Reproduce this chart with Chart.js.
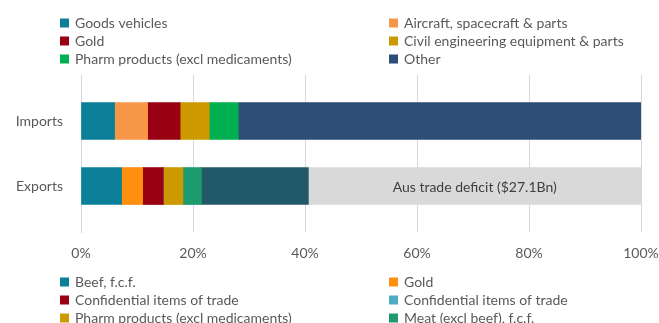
<!DOCTYPE html>
<html>
<head>
<meta charset="utf-8">
<script src="https://cdn.jsdelivr.net/npm/chart.js@4/dist/chart.umd.min.js"></script>
<style>
  html, body { margin: 0; padding: 0; background: #fff; }
  #wrap { width: 659px; height: 323px; position: relative; }
</style>
</head>
<body>
<div id="wrap"><canvas id="chart"></canvas></div>
<script>
// --- DATOS ---
const categories = ['Imports', 'Exports'];
const tickLabels = ['0%', '20%', '40%', '60%', '80%', '100%'];

// Importaciones (% del total)
const importNames = ['Goods vehicles', 'Aircraft, spacecraft & parts', 'Gold', 'Civil engineering equipment & parts', 'Pharm products (excl medicaments)', 'Other'];
const importValues = [6.0, 5.9, 5.8, 5.2, 5.2, 71.9];
const importColors = ['#0b7f98', '#f79646', '#990012', '#cc9900', '#00b050', '#2c4d75'];

// Exportaciones (% del total de importaciones)
const exportNames = ['Beef, f.c.f.', 'Gold', 'Confidential items of trade', 'Confidential items of trade', 'Pharm products (excl medicaments)', 'Meat (excl beef), f.c.f.', 'Other', 'Aus trade deficit ($27.1Bn)'];
const exportValues = [7.25, 3.75, 3.7, 0, 3.5, 3.3, 19.1, 59.4];
const exportColors = ['#0b7f98', '#ff8f0f', '#990012', '#4bacc6', '#cc9900', '#1e9b6e', '#215968', '#d9d9d9'];
const exportLegendCount = 6;   // los primeros 6 aparecen en la leyenda inferior
const deficitIndex = 7;

const FONT = 'Lato, "Open Sans", sans-serif';
const TEXT_COLOR = '#595959';

const datasets = [];
importNames.forEach((name, i) => datasets.push({
    label: name, data: [importValues[i], null], backgroundColor: importColors[i]
}));
exportNames.forEach((name, i) => datasets.push({
    label: name, data: [null, exportValues[i]], backgroundColor: exportColors[i]
}));

// --- PLUGIN: leyendas en dos columnas y etiqueta del déficit ---
const legendsPlugin = {
    id: 'twoLegends',
    afterDraw(chart) {
        const ctx = chart.ctx;
        ctx.save();
        ctx.font = '14px ' + FONT;
        ctx.textBaseline = 'middle';
        ctx.textAlign = 'left';
        const drawLegend = (names, colors, rows) => {
            names.forEach((name, i) => {
                const col = i % 2;
                const row = Math.floor(i / 2);
                const x = col === 0 ? 60 : 389;
                const y = rows[row];
                ctx.fillStyle = colors[i];
                ctx.fillRect(x, y - 4.5, 9, 9);
                ctx.fillStyle = TEXT_COLOR;
                ctx.fillText(name, x + 15, y + 0.5);
            });
        };
        drawLegend(importNames, importColors, [23, 41, 59]);
        drawLegend(exportNames.slice(0, exportLegendCount), exportColors, [282, 300, 318]);

        // Texto dentro de la barra del déficit
        const meta = chart.getDatasetMeta(importNames.length + deficitIndex);
        const bar = meta.data[1];
        if (bar) {
            const cx = (bar.base + bar.x) / 2;
            ctx.textAlign = 'center';
            ctx.fillStyle = '#404040';
            ctx.fillText(exportNames[deficitIndex], cx, bar.y + 1);
        }
        ctx.restore();
    }
};

new Chart(document.getElementById('chart'), {
    type: 'bar',
    data: { labels: categories, datasets },
    options: {
        indexAxis: 'y',
        responsive: true,
        maintainAspectRatio: false,
        animation: false,
        layout: { padding: { top: 75, right: 18, bottom: 50, left: 0 } },
        datasets: { bar: { barThickness: 37, borderWidth: 0 } },
        plugins: { legend: { display: false }, tooltip: { enabled: false } },
        scales: {
            x: {
                stacked: true,
                min: 0, max: 100,
                afterFit: (s) => { s.height = 41; s.paddingRight = 0; s.paddingLeft = 0; },
                grid: { color: '#d9d9d9', lineWidth: 1, drawTicks: false },
                border: { display: false },
                ticks: {
                    stepSize: 20, padding: 13, maxRotation: 0,
                    color: TEXT_COLOR, font: { family: FONT, size: 14 },
                    callback: (v) => tickLabels[v / 20]
                }
            },
            y: {
                stacked: true,
                // el área de gráfico es más alta que las bandas de categoría (como en Excel)
                afterBuildTicks: (s) => { s._startValue = -0.708; s._valueRange = 2.415; },
                afterFit: (s) => { s.width = 81; },
                grid: { display: false },
                border: { display: true, color: '#d9d9d9' },
                ticks: { color: TEXT_COLOR, font: { family: FONT, size: 14 }, padding: 10 }
            }
        }
    },
    plugins: [legendsPlugin]
});
</script>
</body>
</html>
